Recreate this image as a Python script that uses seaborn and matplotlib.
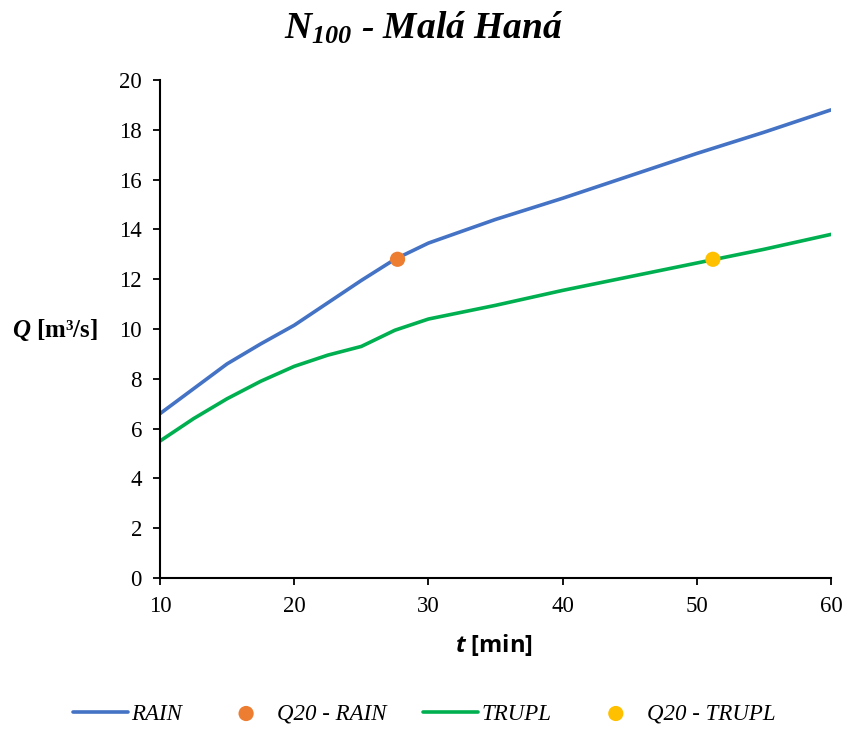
import matplotlib
matplotlib.use("Agg")
import matplotlib.pyplot as plt
import seaborn as sns
import pandas as pd

# Data
t_rain = [10, 12.5, 15, 17.5, 20, 22.5, 25, 27.5, 30, 35, 40, 45, 50, 55, 60]
q_rain = [6.6, 7.6, 8.6, 9.4, 10.15, 11.05, 11.95, 12.8, 13.45, 14.4, 15.25, 16.15, 17.05, 17.9, 18.8]
t_trupl = [10, 12.5, 15, 17.5, 20, 22.5, 25, 27.5, 30, 35, 40, 45, 50, 55, 60]
q_trupl = [5.5, 6.4, 7.2, 7.9, 8.5, 8.95, 9.3, 9.95, 10.4, 10.95, 11.55, 12.1, 12.65, 13.2, 13.8]
q20_rain = (27.7, 12.8)
q20_trupl = (51.2, 12.8)
x_ticks = [10, 20, 30, 40, 50, 60]
y_ticks = [0, 2, 4, 6, 8, 10, 12, 14, 16, 18, 20]

sns.set_style("ticks")
plt.rcParams["font.family"] = ["Liberation Serif", "DejaVu Serif"]
plt.rcParams["text.color"] = "black"
plt.rcParams["axes.labelcolor"] = "black"
plt.rcParams["xtick.color"] = "black"
plt.rcParams["ytick.color"] = "black"
plt.rcParams["mathtext.fontset"] = "custom"
plt.rcParams["mathtext.it"] = "Liberation Serif:italic:bold"
plt.rcParams["mathtext.rm"] = "Liberation Serif:italic:bold"
plt.rcParams["mathtext.sf"] = "Open Sans:italic:bold"

fig = plt.figure(figsize=(8.48, 7.29), dpi=100)
ax = fig.add_axes([160/848, 1-578/729, (831-160)/848, (578-80)/729])

df_rain = pd.DataFrame({"t": t_rain, "Q": q_rain})
df_trupl = pd.DataFrame({"t": t_trupl, "Q": q_trupl})

sns.lineplot(data=df_rain, x="t", y="Q", ax=ax, color="#4472C4", lw=2.6, label="RAIN")
sns.scatterplot(x=[q20_rain[0]], y=[q20_rain[1]], ax=ax, color="#ED7D31", s=120,
                edgecolor="none", zorder=5, label="Q20 - RAIN")
sns.lineplot(data=df_trupl, x="t", y="Q", ax=ax, color="#00B050", lw=2.6, label="TRUPL")
sns.scatterplot(x=[q20_trupl[0]], y=[q20_trupl[1]], ax=ax, color="#FFC000", s=120,
                edgecolor="none", zorder=5, label="Q20 - TRUPL")

ax.set_xlim(10, 60)
ax.set_ylim(0, 20)
ax.set_xticks(x_ticks)
ax.set_yticks(y_ticks)
ax.tick_params(labelsize=16.5, length=5, width=1.3, color="black", labelcolor="black",
               direction="out", pad=8)
for lab in ax.get_xticklabels() + ax.get_yticklabels():
    lab.set_fontfamily("Liberation Serif")
sns.despine(ax=ax)
for s in ["left", "bottom"]:
    ax.spines[s].set_linewidth(1.5)
    ax.spines[s].set_color("black")
ax.set_xlabel("")
ax.set_ylabel("")

handles, labels = ax.get_legend_handles_labels()
ax.get_legend().remove()
fig.legend(handles, labels, loc="center", bbox_to_anchor=(0.5, 1-714/729), ncol=4,
           frameon=False, prop={"family": "Liberation Serif", "style": "italic", "size": 16.5},
           handlelength=2.4, handletextpad=0.15, columnspacing=1.6, markerscale=1.0,
           labelcolor="black")

fig.text(0.5, 1-28/729, r"$N_{100}$ - Malá Haná", ha="center", va="center",
         fontsize=27, fontweight="bold", fontstyle="italic", family="Liberation Serif",
         color="black")
fig.text(12/848, 1-330/729, r"$Q$ [m³/s]", ha="left", va="center", fontsize=18,
         fontweight="bold", family="Liberation Serif", color="black")
fig.text(494/848, 1-645/729, r"$\mathsf{t}$ [min]", ha="center", va="center", fontsize=17,
         fontweight="bold", family="Open Sans", color="black")

fig.savefig("out.png", dpi=100)
